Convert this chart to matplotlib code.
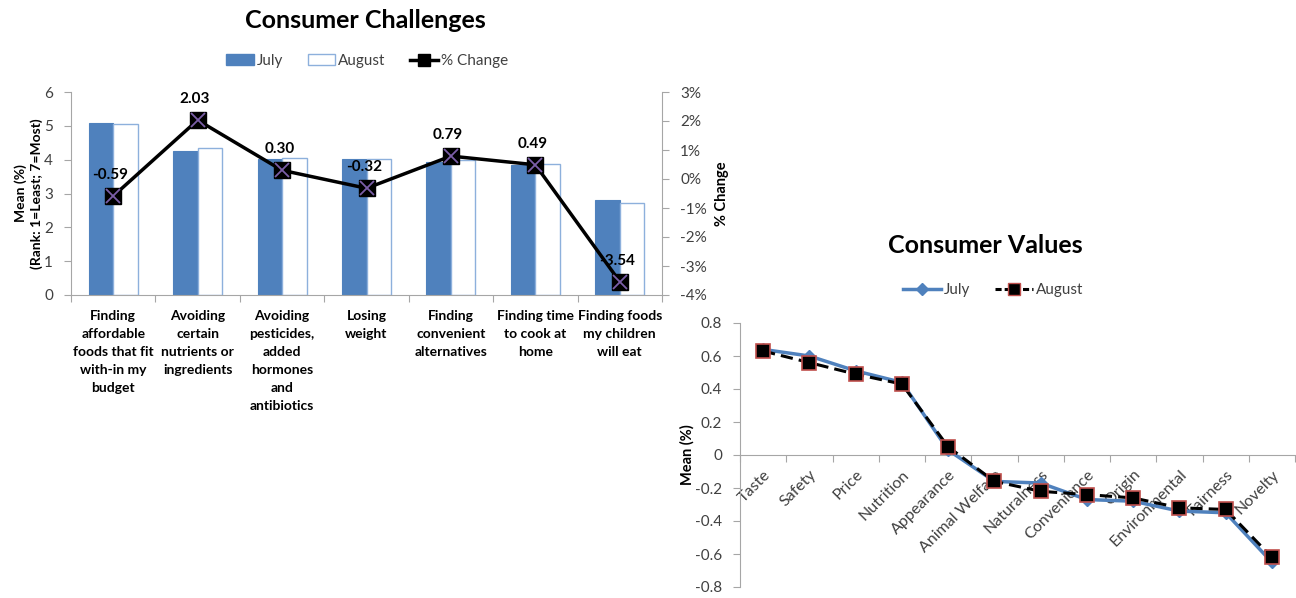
import matplotlib
matplotlib.use("Agg")
import matplotlib.pyplot as plt
import numpy as np
from matplotlib.lines import Line2D
from matplotlib.patches import Patch

plt.rcParams['font.family'] = ['Lato', 'DejaVu Sans']

# ---------------- data ----------------
challenge_labels = [
    "Finding\naffordable\nfoods that fit\nwith-in my\nbudget",
    "Avoiding\ncertain\nnutrients or\ningredients",
    "Avoiding\npesticides,\nadded\nhormones\nand\nantibiotics",
    "Losing\nweight",
    "Finding\nconvenient\nalternatives",
    "Finding time\nto cook at\nhome",
    "Finding foods\nmy children\nwill eat",
]
july_challenges = [5.09, 4.25, 4.03, 4.03, 3.93, 3.85, 2.81]
august_challenges = [5.06, 4.34, 4.04, 4.01, 3.99, 3.87, 2.73]
pct_change = [-0.59, 2.03, 0.30, -0.32, 0.79, 0.49, -3.54]

value_labels = ["Taste", "Safety", "Price", "Nutrition", "Appearance", "Animal Welfare",
                "Naturalness", "Convenience", "Origin", "Environmental", "Fairness", "Novelty"]
july_values = [0.64, 0.60, 0.51, 0.44, 0.03, -0.16, -0.17, -0.27, -0.28, -0.34, -0.35, -0.65]
august_values = [0.63, 0.56, 0.49, 0.43, 0.05, -0.16, -0.22, -0.24, -0.26, -0.32, -0.33, -0.62]

BLUE = "#4F81BD"
LIGHTBLUE = "#8DB0DC"
GRAY = "#A6A6A6"
TXT = "#404040"

W, H = 1296, 598
fig = plt.figure(figsize=(W / 100, H / 100), dpi=100)

def ax_rect(x0, y0, x1, y1):
    return [x0 / W, 1 - y1 / H, (x1 - x0) / W, (y1 - y0) / H]

# ---------------- left chart ----------------
ax = fig.add_axes(ax_rect(71, 92, 662, 295))
n = len(challenge_labels)
x = np.arange(n)
bw = 0.29
ax.bar(x - bw / 2, july_challenges, bw, color=BLUE, edgecolor=BLUE, linewidth=0.8, zorder=2)
ax.bar(x + bw / 2, august_challenges, bw, color="white", edgecolor=LIGHTBLUE, linewidth=1.0, zorder=2)
ax.set_xlim(-0.5, n - 0.5)
ax.set_ylim(0, 6)
ax.set_yticks(range(0, 7))
ax.set_xticks(np.arange(-0.5, n, 1.0))
ax.set_xticklabels([])
ax.set_xticks(x, minor=True)
ax.set_xticklabels(challenge_labels, minor=True, fontsize=10, fontweight="bold",
                   color="black", linespacing=1.6)
ax.tick_params(axis="x", which="minor", length=0, pad=11)
ax.tick_params(axis="x", which="major", length=5, color=GRAY, direction="out")
ax.tick_params(axis="y", length=5, color=GRAY, labelsize=11, labelcolor=TXT, pad=8)
for s in ["top", "right"]:
    ax.spines[s].set_visible(False)
for s in ["left", "bottom"]:
    ax.spines[s].set_color(GRAY)
ax.set_ylabel("Mean (%)\n(Rank: 1=Least; 7=Most)", fontsize=10, fontweight="bold",
              labelpad=1, linespacing=1.3)

ax2 = ax.twinx()
ax2.set_ylim(-4, 3)
ax2.set_yticks(range(-4, 4))
ax2.set_yticklabels([f"{v}%" for v in range(-4, 4)])
ax2.tick_params(axis="y", length=5, color=GRAY, labelsize=11, labelcolor=TXT, pad=8)
for s in ["top", "left", "bottom"]:
    ax2.spines[s].set_visible(False)
ax2.spines["right"].set_color(GRAY)
ax2.set_ylabel("% Change", fontsize=10.5, fontweight="bold", labelpad=6)
ax2.plot(x, pct_change, color="black", linewidth=2.5, marker="s", markersize=11,
         markerfacecolor="black", markeredgecolor="black", zorder=5)
ax2.plot(x, pct_change, linestyle="none", marker="x", markersize=10,
         markeredgecolor="#7B5EA7", markeredgewidth=1.3, zorder=6)
for xi, v in zip(x, pct_change):
    ax2.annotate(f"{v:.2f}", (xi, v), xytext=(-2, 10), textcoords="offset points",
                 ha="center", va="bottom", fontsize=11, fontweight="bold", color="black")

fig.text(365 / W, 1 - 20 / H, "Consumer Challenges", ha="center", va="center",
         fontsize=18, fontweight="bold")
leg_handles = [
    Patch(facecolor=BLUE, edgecolor=BLUE),
    Patch(facecolor="white", edgecolor=LIGHTBLUE),
    Line2D([0], [0], color="black", lw=2.5, marker="s", markersize=8,
           markerfacecolor="black"),
]
fig.legend(leg_handles, ["July", "August", "% Change"], loc="center",
           bbox_to_anchor=(367 / W, 1 - 61 / H), ncol=3, frameon=False,
           fontsize=11, handlelength=1.8, handletextpad=0.2, columnspacing=1.6,
           labelcolor=TXT)

# ---------------- right chart ----------------
bx = fig.add_axes(ax_rect(740, 323, 1295, 587))
m = len(value_labels)
xv = np.arange(m)
bx.plot(xv, july_values, color=BLUE, linewidth=2.5, marker="D", markersize=6,
        markerfacecolor=BLUE, markeredgecolor=BLUE, zorder=3)
bx.plot(xv, august_values, color="black", linewidth=2.2, linestyle=(0, (4, 2)),
        marker="s", markersize=10, markerfacecolor="black",
        markeredgecolor="#C0504D", markeredgewidth=1.2, zorder=4)
bx.set_xlim(-0.5, m - 0.5)
bx.set_ylim(-0.8, 0.8)
yt = np.round(np.arange(-0.8, 0.81, 0.2), 1)
bx.set_yticks(yt)
bx.set_yticklabels([("0" if abs(v) < 1e-9 else f"{v:.1f}") for v in yt])
bx.spines["bottom"].set_position(("data", 0))
for s in ["top", "right"]:
    bx.spines[s].set_visible(False)
for s in ["left", "bottom"]:
    bx.spines[s].set_color(GRAY)
bx.set_xticks(np.arange(-0.5, m, 1.0))
bx.set_xticklabels([])
bx.set_xticks(xv, minor=True)
bx.set_xticklabels(value_labels, minor=True, rotation=45, ha="right", va="top",
                   rotation_mode="anchor", fontsize=11.5, color=TXT)
bx.tick_params(axis="x", which="minor", length=0, pad=9)
bx.tick_params(axis="x", which="major", length=5, color=GRAY, direction="out")
bx.tick_params(axis="y", length=5, color=GRAY, labelsize=11, labelcolor=TXT, pad=8)
bx.set_ylabel("Mean (%)", fontsize=10.5, fontweight="bold", labelpad=0)

fig.text(985 / W, 1 - 245 / H, "Consumer Values", ha="center", va="center",
         fontsize=18, fontweight="bold")
leg2 = [
    Line2D([0], [0], color=BLUE, lw=2.5, marker="D", markersize=6,
           markerfacecolor=BLUE),
    Line2D([0], [0], color="black", lw=2.2, linestyle=(0, (2, 1)), marker="s", markersize=8,
           markerfacecolor="black", markeredgecolor="#C0504D"),
]
fig.legend(leg2, ["July", "August"], loc="center", bbox_to_anchor=(993 / W, 1 - 290 / H),
           ncol=2, frameon=False, fontsize=11, handlelength=2.5, handletextpad=0.2,
           columnspacing=1.6, labelcolor=TXT)

fig.savefig("out.png", dpi=100)
